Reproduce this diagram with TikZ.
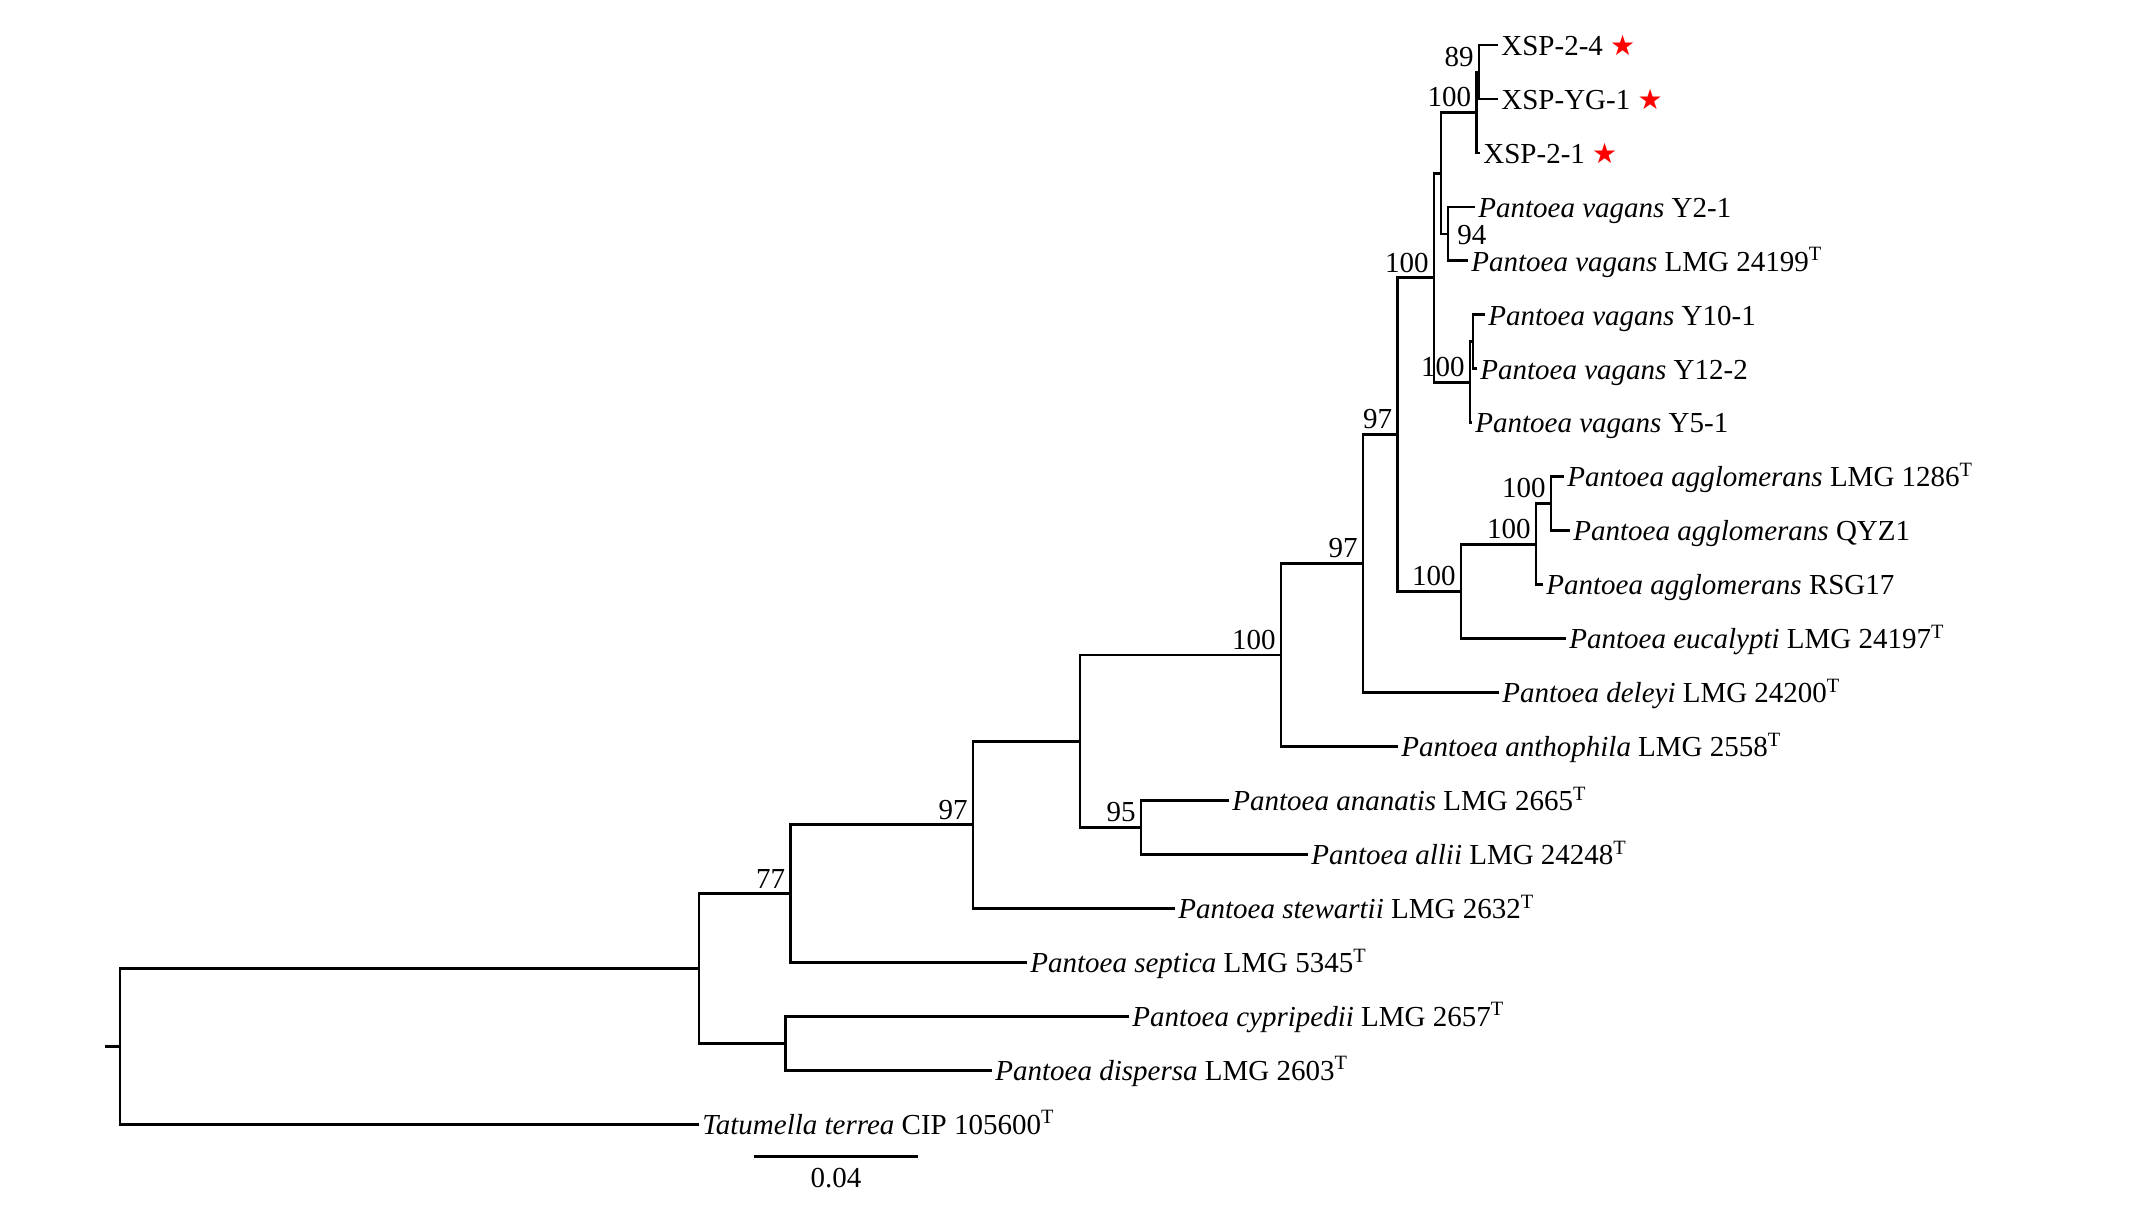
\documentclass[tikz,border=0pt]{standalone}
\usepackage{fontspec}
\setmainfont{Liberation Serif}
\newfontfamily\starfont{DejaVu Sans}
\usepackage{tikz}
\tikzstyle{leaf} = [anchor=west, inner sep=1pt, text height=1.22em, text depth=.2em, font=\fontsize{14.5}{17}\selectfont]
\tikzstyle{boot} = [anchor=south east, inner sep=2pt, font=\fontsize{14.5}{17}\selectfont]
\newcommand{\hit}{{\color{red}\fontsize{14}{14}\starfont ★}}
\newcommand{\typ}{\textsuperscript{T}}

\begin{document}
\begin{tikzpicture}[x=0.5pt,y=-0.5pt,line width=1.4pt]
\useasboundingbox (0,0) rectangle (2146,1207);
% inner nodes of the tree
\coordinate (rt) at (105,1046.3);
\coordinate (root) at (120,1046.3);
\coordinate (nO) at (699,968.4);
\coordinate (nN) at (785.5,1043.2);
\coordinate (nM) at (790.5,893.5);
\coordinate (nL) at (973,824.8);
\coordinate (nJ) at (1080,741.2);
\coordinate (n95) at (1141,827.4);
\coordinate (nI) at (1281,655);
\coordinate (nH) at (1363,563.5);
\coordinate (nG) at (1397.5,434.5);
\coordinate (nK3) at (1461,591.3);
\coordinate (nK2) at (1536,544.1);
\coordinate (nK1) at (1551,503.6);
\coordinate (nE) at (1434,277.7);
\coordinate (nC) at (1470,382.3);
\coordinate (nC2) at (1473,341.8);
\coordinate (nD) at (1441,173.2);
\coordinate (nB) at (1448,233.9);
\coordinate (nA) at (1476.5,112.5);
\coordinate (n89) at (1479,72);
% leaves
\node[leaf] (xsp24) at (1498,45) {XSP-2-4 \hit};
\node[leaf] (xspyg) at (1498,99) {XSP-YG-1 \hit};
\node[leaf] (xsp21) at (1480,152.9) {XSP-2-1 \hit};
\node[leaf] (vagY2) at (1475,206.9) {\textit{Pantoea vagans} Y2-1};
\node[leaf] (vagLMG) at (1468,260.8) {\textit{Pantoea vagans} LMG 24199\typ};
\node[leaf] (vagY10) at (1485,314.8) {\textit{Pantoea vagans} Y10-1};
\node[leaf] (vagY12) at (1477,368.8) {\textit{Pantoea vagans} Y12-2};
\node[leaf] (vagY5) at (1472,422.7) {\textit{Pantoea vagans} Y5-1};
\node[leaf] (aggLMG) at (1564,476.7) {\textit{Pantoea agglomerans} LMG 1286\typ};
\node[leaf] (aggQYZ) at (1570,530.6) {\textit{Pantoea agglomerans} QYZ1};
\node[leaf] (aggRSG) at (1543,584.6) {\textit{Pantoea agglomerans} RSG17};
\node[leaf] (euc) at (1566,638.5) {\textit{Pantoea eucalypti} LMG 24197\typ};
\node[leaf] (del) at (1499,692.5) {\textit{Pantoea deleyi} LMG 24200\typ};
\node[leaf] (ant) at (1398,746.4) {\textit{Pantoea anthophila} LMG 2558\typ};
\node[leaf] (ana) at (1229,800.4) {\textit{Pantoea ananatis} LMG 2665\typ};
\node[leaf] (all) at (1308,854.4) {\textit{Pantoea allii} LMG 24248\typ};
\node[leaf] (ste) at (1175,908.3) {\textit{Pantoea stewartii} LMG 2632\typ};
\node[leaf] (sep) at (1027,962.3) {\textit{Pantoea septica} LMG 5345\typ};
\node[leaf] (cyp) at (1129,1016.2) {\textit{Pantoea cypripedii} LMG 2657\typ};
\node[leaf] (dis) at (992,1070.2) {\textit{Pantoea dispersa} LMG 2603\typ};
\node[leaf] (tat) at (699,1124.2) {\textit{Tatumella terrea} CIP 105600\typ};
% branches
\draw (rt) -- (root);
\draw (root) |- (nO) (root) |- (tat);
\draw (nO) |- (nM) (nO) |- (nN);
\draw (nN) |- (cyp) (nN) |- (dis);
\draw (nM) |- (nL) (nM) |- (sep);
\draw (nL) |- (nJ) (nL) |- (ste);
\draw (nJ) |- (nI) (nJ) |- (n95);
\draw (n95) |- (ana) (n95) |- (all);
\draw (nI) |- (nH) (nI) |- (ant);
\draw (nH) |- (nG) (nH) |- (del);
\draw (nG) |- (nE) (nG) |- (nK3);
\draw (nK3) |- (nK2) (nK3) |- (euc);
\draw (nK2) |- (nK1) (nK2) |- (aggRSG);
\draw (nK1) |- (aggLMG) (nK1) |- (aggQYZ);
\draw (nE) |- (nD) (nE) |- (nC);
\draw (nC) |- (nC2) (nC) |- (vagY5);
\draw (nC2) |- (vagY10) (nC2) |- (vagY12);
\draw (nD) |- (nA) (nD) |- (nB);
\draw (nB) |- (vagY2) (nB) |- (vagLMG);
\draw (nA) |- (n89) (nA) |- (xsp21);
\draw (n89) |- (xsp24) (n89) |- (xspyg);
% bootstrap values
\node[boot] (b89) at (n89) {89};
\node[boot] (bA) at (nA) {100};
\node[boot, anchor=west] (bB) at (1452,235) {94};
\node[boot] (bE) at (nE) {100};
\node[boot] (bC) at (nC) {100};
\node[boot] (bG) at (nG) {97};
\node[boot] (bK1) at (nK1) {100};
\node[boot] (bK2) at (nK2) {100};
\node[boot] (bK3) at (nK3) {100};
\node[boot] (bH) at (nH) {97};
\node[boot] (bI) at (nI) {100};
\node[boot] (b95) at (n95) {95};
\node[boot] (bL) at (nL) {97};
\node[boot] (bM) at (nM) {77};
% scale bar
\coordinate (sa) at (754,1156.5);
\coordinate (sb) at (918,1156.5);
\draw (sa) -- (sb);
\node[boot, anchor=center] (sl) at (836,1178) {0.04};
\end{tikzpicture}
\end{document}
